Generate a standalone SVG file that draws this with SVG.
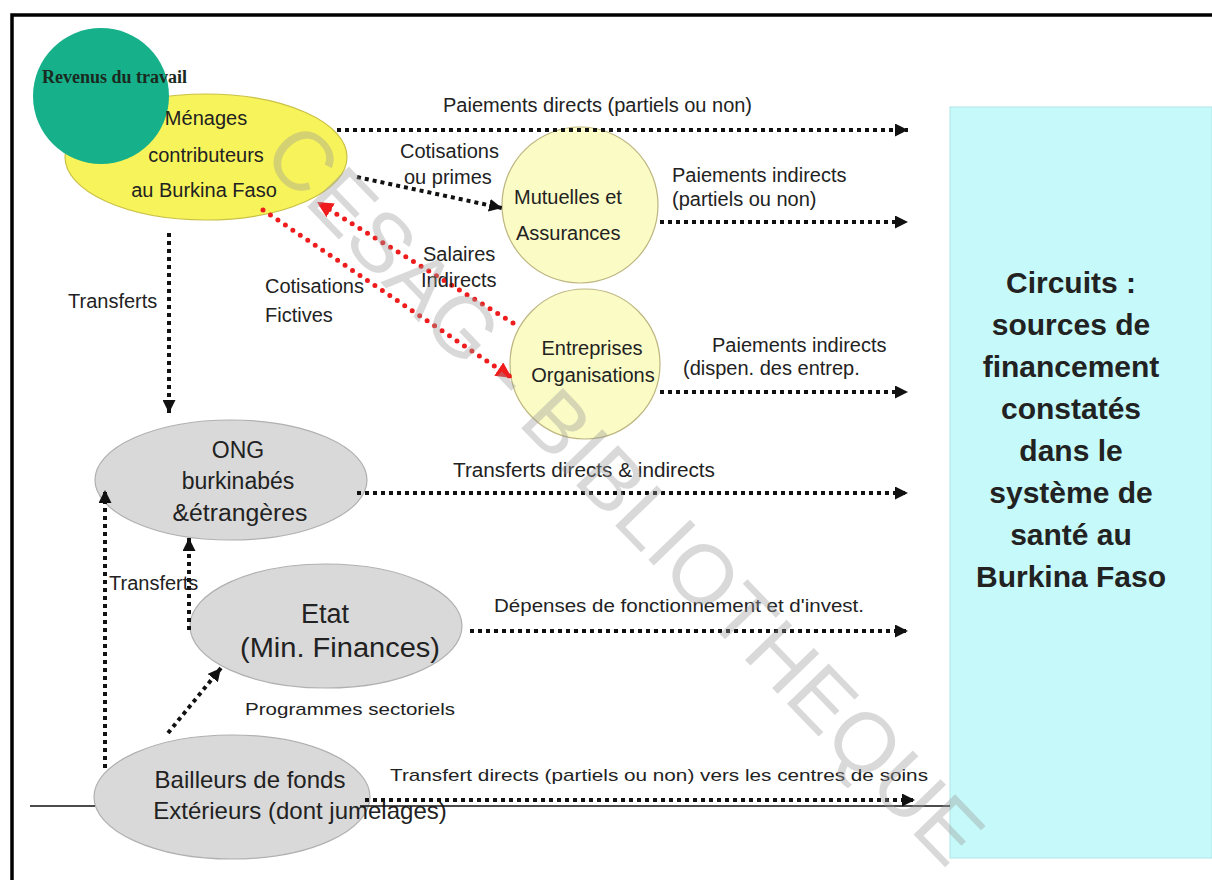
<svg xmlns="http://www.w3.org/2000/svg" width="1212" height="880" viewBox="0 0 1212 880">
<defs>
<style>
.t{font-family:"Liberation Sans",Arial,sans-serif;fill:#222;}
.f20{font-size:20px;}
.dot{fill:none;stroke:#111;stroke-width:4;stroke-dasharray:4 4;}
.red{fill:none;stroke:#ee1c1c;stroke-width:5;stroke-linecap:round;stroke-dasharray:0 9;}
.gray{fill:#d9d9d9;stroke:#b0b0b0;stroke-width:1.2;}
.pale{fill:#fbfbc6;stroke:#bdb57f;stroke-width:1.2;}
</style>
<marker id="ah" viewBox="0 0 12 12" refX="12" refY="6" markerWidth="13" markerHeight="13" markerUnits="userSpaceOnUse" orient="auto">
<path d="M0,0 L12,6 L0,12 z" fill="#111"/>
</marker>
<marker id="ahr" viewBox="0 0 12 12" refX="12" refY="6" markerWidth="16" markerHeight="16" markerUnits="userSpaceOnUse" orient="auto">
<path d="M0,0 L12,6 L0,12 z" fill="#ee1c1c"/>
</marker>
</defs>
<rect x="0" y="0" width="1212" height="880" fill="#ffffff"/>
<path d="M12,880 V15 H1212" fill="none" stroke="#000" stroke-width="3.5"/>

<g id="panel">
<rect x="950" y="107" width="262" height="751" fill="#c6f9f9" stroke="#b0e6e6" stroke-width="1"/>
<g class="t" font-size="30" font-weight="bold" text-anchor="middle">
<text x="1071" y="293">Circuits :</text>
<text x="1071" y="335">sources de</text>
<text x="1071" y="377">financement</text>
<text x="1071" y="419">constatés</text>
<text x="1071" y="461">dans le</text>
<text x="1071" y="503">système de</text>
<text x="1071" y="545">santé au</text>
<text x="1071" y="587">Burkina Faso</text>
</g>
</g>

<g id="menages">
<ellipse cx="206" cy="157" rx="141" ry="63" fill="#f7f35a" stroke="#c9c146" stroke-width="1.2"/>
</g>
<g id="revenus">
<circle cx="101" cy="96" r="68" fill="#16b08a"/>
<text x="42" y="83" font-family="'Liberation Serif',serif" font-size="18" font-weight="bold" fill="#1a2a20">Revenus du travail</text>
</g>
<g id="menages-label" class="t f20" text-anchor="middle">
<text x="206" y="125">Ménages</text>
<text x="206" y="162">contributeurs</text>
<text x="204" y="197">au Burkina Faso</text>
</g>

<g id="mutuelles">
<circle cx="580" cy="205" r="78" class="pale"/>
<text class="t f20" x="514" y="204">Mutuelles et</text>
<text class="t f20" x="516" y="240">Assurances</text>
</g>

<g id="entreprises">
<circle cx="585" cy="364" r="75" class="pale"/>
<text class="t f20" x="592" y="355" text-anchor="middle">Entreprises</text>
<text class="t f20" x="593" y="382" text-anchor="middle">Organisations</text>
</g>

<g id="ong">
<ellipse cx="231" cy="480" rx="136" ry="60" class="gray"/>
<g class="t" font-size="23" text-anchor="middle">
<text x="238" y="458">ONG</text>
<text x="238" y="489">burkinabés</text>
<text x="240" y="521" textLength="135" lengthAdjust="spacingAndGlyphs">&amp;étrangères</text>
</g>
</g>

<g id="etat">
<ellipse cx="326" cy="626" rx="136" ry="62" class="gray"/>
<g class="t" font-size="27" text-anchor="middle">
<text x="325" y="623">Etat</text>
<text x="340" y="657" textLength="200" lengthAdjust="spacingAndGlyphs">(Min. Finances)</text>
</g>
</g>

<g id="bailleurs">
<ellipse cx="232" cy="797" rx="138" ry="62" class="gray"/>
</g>

<g id="connectors">
<line x1="30" y1="806" x2="95" y2="806" stroke="#111" stroke-width="1.5"/>
<path class="dot" d="M337,130 H908" marker-end="url(#ah)"/>
<path class="dot" d="M357,177 L502,208" marker-end="url(#ah)"/>
<path class="dot" d="M660,222 H908" marker-end="url(#ah)"/>
<path class="dot" d="M660,392 H908" marker-end="url(#ah)"/>
<path class="dot" d="M169,233 V413" marker-end="url(#ah)"/>
<path class="dot" d="M357,493 H908" marker-end="url(#ah)"/>
<path class="dot" d="M470,631 H908" marker-end="url(#ah)"/>
<path class="dot" d="M105,768 V490" marker-end="url(#ah)"/>
<path class="dot" d="M189,630 V538" marker-end="url(#ah)"/>
<path class="dot" d="M168,733 L221,668" marker-end="url(#ah)"/>
<path class="dot" d="M365,800 H915" marker-end="url(#ah)"/>
<path class="red" d="M513,323 L317,202" marker-end="url(#ahr)"/>
<path class="red" d="M263,210 L512,378" marker-end="url(#ahr)"/>
</g>

<g id="bailleurs-label" class="t" font-size="24" text-anchor="middle">
<text x="250" y="788">Bailleurs de fonds</text>
<text x="300" y="819">Extérieurs (dont jumelages)</text>
</g>
<line x1="360" y1="806" x2="950" y2="806" stroke="#111" stroke-width="1.5"/>

<g id="labels" class="t">
<text class="f20" x="443" y="112">Paiements directs (partiels ou non)</text>
<text class="f20" x="400" y="158">Cotisations</text>
<text class="f20" x="404" y="184">ou primes</text>
<text class="f20" x="672" y="182">Paiements indirects</text>
<text class="f20" x="672" y="206">(partiels ou non)</text>
<text class="f20" x="423" y="261">Salaires</text>
<text class="f20" x="421" y="287">Indirects</text>
<text class="f20" x="265" y="293">Cotisations</text>
<text class="f20" x="265" y="322">Fictives</text>
<text class="f20" x="68" y="308">Transferts</text>
<text class="f20" x="712" y="352">Paiements indirects</text>
<text class="f20" x="683" y="375">(dispen. des entrep.</text>
<text class="f20" x="453" y="477" textLength="262" lengthAdjust="spacingAndGlyphs">Transferts directs &amp; indirects</text>
<text font-size="18" x="494" y="612" textLength="370" lengthAdjust="spacingAndGlyphs">Dépenses de fonctionnement et d'invest.</text>
<text class="f20" x="109" y="590">Transferts</text>
<text font-size="17" x="245" y="715" textLength="210" lengthAdjust="spacingAndGlyphs">Programmes sectoriels</text>
<text font-size="17" x="390" y="781" textLength="538" lengthAdjust="spacingAndGlyphs">Transfert directs (partiels ou non) vers les centres de soins</text>
</g>

<g id="watermark">
<text x="604" y="514" transform="rotate(46 604 514)" text-anchor="middle" font-family="'Liberation Sans',sans-serif" font-size="84" fill="#9a9a9a" fill-opacity="0.38">CESAG - BIBLIOTHEQUE</text>
</g>
</svg>
